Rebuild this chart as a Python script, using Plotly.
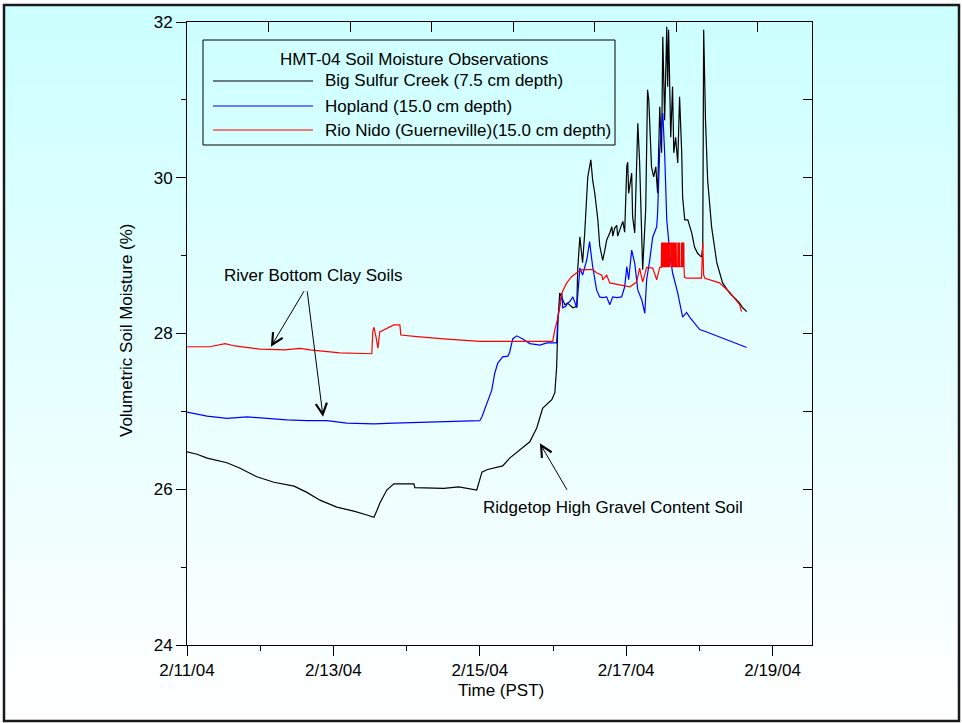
import pandas as pd
import plotly.graph_objects as go

# ---- observations: hours after 2004-02-11 00:00 PST, volumetric moisture (%) ----
sulfur_hours = [0, 3.3, 6.6, 13.1, 17.4, 22.9, 28.5, 35.1, 39.3, 43.6, 49.1, 54.7, 59.0, 61.3,
                62.3, 63.2, 65.5, 67.8, 74.4, 74.7, 84.2, 89.1, 95.0, 96.7, 98.3, 103.5, 105.8,
                109.1, 112.4, 114.7, 116.6, 119.6, 120.6, 121.2, 121.6, 122.2, 122.9, 123.9,
                124.8, 126.5, 127.8, 128.1, 128.8, 129.4, 129.7, 130.4, 131.4, 132.4, 133.0,
                133.7, 134.3, 134.7, 135.3, 136.3, 137.0, 137.6, 138.6, 139.3, 139.6, 140.2,
                140.9, 141.2, 141.9, 142.9, 143.5, 144.2, 144.5, 144.8, 145.8, 146.1, 146.8,
                147.4, 147.8, 148.4, 149.1, 149.4, 150.4, 151.0, 151.4, 152.3, 153.0, 153.7,
                154.3, 155.0, 155.6, 156.0, 156.6, 157.3, 157.6, 157.9, 158.6, 159.2, 159.6,
                160.2, 160.9, 161.5, 162.2, 162.5, 163.2, 164.2, 165.5, 166.4, 167.4, 168.7,
                169.1, 169.4, 170.0, 170.7, 172.0, 173.7, 175.6, 177.9, 180.2, 181.2, 182.2, 183.5]
sulfur_vals = [26.48, 26.45, 26.40, 26.34, 26.27, 26.16, 26.09, 26.04, 25.96, 25.86, 25.77, 25.72,
               25.67, 25.64, 25.73, 25.82, 25.99, 26.07, 26.07, 26.02, 26.01, 26.03, 25.99, 26.22,
               26.25, 26.30, 26.40, 26.50, 26.61, 26.79, 27.04, 27.15, 27.24, 27.57, 28.14, 28.52,
               28.46, 28.37, 28.39, 28.33, 28.35, 28.82, 29.24, 29.03, 28.91, 29.29, 30.01, 30.23,
               29.97, 29.80, 29.60, 29.46, 29.13, 28.94, 29.07, 29.20, 29.29, 29.37, 29.25, 29.35,
               29.39, 29.25, 29.33, 29.44, 29.30, 30.15, 30.20, 29.80, 30.06, 29.50, 29.29, 30.32,
               30.70, 30.20, 29.03, 28.82, 29.60, 31.13, 31.00, 30.14, 30.01, 30.14, 29.80, 30.91,
               30.32, 31.81, 30.74, 31.94, 31.17, 31.90, 30.52, 31.17, 30.32, 30.52, 30.19, 31.04,
               30.32, 29.75, 29.46, 29.46, 29.29, 29.11, 29.03, 28.98, 29.11, 31.90, 30.74, 29.97,
               29.37, 28.91, 28.65, 28.52, 28.43, 28.39, 28.33, 28.28]

hopland_hours = [0, 6.6, 13.1, 19.7, 26.2, 32.8, 39.3, 45.9, 52.4, 61.3, 67.8, 75.4, 96.0, 96.7,
                 98.3, 99.9, 100.9, 101.9, 103.5, 105.2, 105.8, 106.8, 108.1, 110.1, 112.4, 115.7,
                 118.0, 121.2, 121.6, 122.2, 122.9, 123.2, 124.2, 124.8, 125.5, 126.5, 127.8,
                 128.8, 129.7, 131.1, 132.0, 133.0, 134.3, 135.3, 136.3, 137.6, 138.6, 139.6,
                 140.9, 142.5, 143.5, 144.2, 144.8, 145.8, 146.8, 147.8, 149.1, 150.1, 150.7,
                 151.7, 152.7, 154.0, 154.3, 155.0, 156.0, 156.6, 157.3, 158.3, 159.2, 160.9,
                 162.5, 163.8, 164.8, 168.1, 170.4, 183.5]
hopland_vals = [26.99, 26.94, 26.91, 26.93, 26.91, 26.89, 26.88, 26.88, 26.85, 26.84, 26.85, 26.86,
                26.88, 26.93, 27.11, 27.27, 27.49, 27.62, 27.70, 27.71, 27.76, 27.93, 27.97, 27.93,
                27.87, 27.85, 27.88, 27.88, 28.21, 28.34, 28.52, 28.33, 28.35, 28.39, 28.41, 28.47,
                28.33, 28.84, 28.75, 28.95, 29.18, 28.86, 28.56, 28.47, 28.46, 28.47, 28.37, 28.47,
                28.46, 28.47, 28.60, 28.86, 28.69, 29.07, 28.90, 28.56, 28.43, 28.26, 28.69, 28.94,
                29.24, 29.37, 29.55, 30.36, 30.83, 30.32, 29.46, 29.03, 28.78, 28.52, 28.21, 28.27,
                28.21, 28.05, 28.02, 27.82]

rionido_hours = [0, 7.5, 12.5, 15.7, 23.9, 32.1, 37.0, 40.3, 50.1, 60.6, 60.9, 61.3, 62.0, 62.6,
                 63.2, 65.5, 67.8, 69.8, 70.1, 75.4, 84.2, 96.0, 119.9, 120.6, 121.6, 122.9,
                 124.5, 126.1, 128.1, 129.7, 133.0, 134.3, 136.0, 136.3, 137.6, 138.6, 142.9,
                 145.2, 147.4, 148.4, 149.4, 150.7, 152.7, 154.0, 155.0,
                 155.5, 155.6, 155.75, 155.8, 155.95, 156.0, 156.15, 156.2, 156.35, 156.4,
                 156.55, 156.6, 156.75, 156.8, 156.95, 157.0, 157.15, 157.2, 157.35, 157.4,
                 157.55, 157.6, 157.75, 157.8, 157.95, 158.0, 158.15, 158.2, 158.35, 158.4,
                 158.8, 158.85, 159.0, 159.05, 159.2, 159.25, 159.4, 159.45, 159.6, 159.65,
                 159.8, 159.85, 160.0, 160.05, 160.2, 160.25, 160.4, 160.45,
                 160.9, 160.95, 161.1, 161.15, 161.3, 161.35, 161.5, 161.55,
                 162.1, 162.15, 162.3, 162.35, 162.6, 162.65, 162.9, 162.95, 163.1,
                 163.8, 168.7, 169.1, 169.4, 169.8, 174.6, 177.9, 181.2, 181.8, 183.5]
rionido_vals = [27.83, 27.83, 27.87, 27.84, 27.80, 27.79, 27.81, 27.79, 27.75, 27.74, 28.02, 28.08,
                27.95, 27.81, 28.02, 28.07, 28.11, 28.11, 27.98, 27.96, 27.93, 27.90, 27.90, 28.05,
                28.20, 28.52, 28.65, 28.73, 28.79, 28.82, 28.82, 28.78, 28.75, 28.69, 28.75, 28.65,
                28.62, 28.60, 28.66, 28.84, 28.66, 28.85, 28.84, 28.69, 28.85,
                28.85, 29.16, 29.16, 28.86, 28.86, 29.16, 29.16, 28.86, 28.86,
                29.16, 29.16, 28.86, 28.86, 29.16, 29.16, 28.86, 28.86, 29.16, 29.16,
                28.86, 28.86, 29.16, 29.16, 28.86, 28.86, 29.16, 29.16, 28.86, 28.86,
                29.16, 29.16, 28.86, 28.86, 29.16, 29.16, 28.86, 28.86, 29.16, 29.16,
                28.86, 28.86, 29.16, 29.16, 28.86, 28.86, 29.16, 29.16,
                28.86, 28.86, 29.16, 29.16, 28.86, 28.86, 29.16, 29.16,
                28.86, 28.86, 29.16, 29.16, 28.86, 28.86, 29.16, 29.16, 28.86,
                28.72, 28.71, 28.71, 29.17, 28.75, 28.71, 28.65, 28.53, 28.37, 28.28]

series_names = ["Big Sulfur Creek (7.5 cm depth)",
                "Hopland (15.0 cm depth)",
                "Rio Nido (Guerneville)(15.0 cm depth)"]
series_colors = ["#000000", "#0000ff", "#ff0000"]

START = pd.Timestamp("2004-02-11 00:00")


def to_time(hours):
    return START + pd.to_timedelta(hours, unit="h")


FONT = "Liberation Sans, Arial, sans-serif"

# plot-area geometry in pixels
L, T, W, H = 187, 22, 625, 623
FIG_W, FIG_H = 962, 723


def px(x):
    return (x - L) / W


def py(y):
    return 1 - (y - T) / H


fig = go.Figure()
for hrs, vals, name, col in zip([sulfur_hours, hopland_hours, rionido_hours],
                                [sulfur_vals, hopland_vals, rionido_vals],
                                series_names, series_colors):
    fig.add_trace(go.Scatter(x=to_time(hrs), y=vals, mode="lines", name=name,
                             line=dict(color=col, width=1.2), showlegend=False))

# empty trace so the top and right tick-only axes get a subplot of their own
fig.add_trace(go.Scatter(x=[], y=[], xaxis="x2", yaxis="y2", mode="lines",
                         showlegend=False, hoverinfo="skip"))

shapes = []
# pale cyan-to-white vertical background gradient inside the frame
top_rgb, bot_rgb = (204, 255, 255), (255, 255, 255)
y_top, y_bot = 5, 721
n = 80
for i in range(n):
    f = i / (n - 1)
    r = round(top_rgb[0] + (bot_rgb[0] - top_rgb[0]) * f)
    g = round(top_rgb[1] + (bot_rgb[1] - top_rgb[1]) * f)
    b = round(top_rgb[2] + (bot_rgb[2] - top_rgb[2]) * f)
    ya = y_top + (y_bot - y_top) * i / n
    yb = y_top + (y_bot - y_top) * (i + 1) / n + 0.6
    shapes.append(dict(type="rect", xref="paper", yref="paper", layer="below",
                       x0=px(5), x1=px(958), y0=py(ya), y1=py(yb),
                       fillcolor=f"rgb({r},{g},{b})", line=dict(width=0)))
# outer frame
shapes.append(dict(type="rect", xref="paper", yref="paper", layer="above",
                   x0=px(4), x1=px(959), y0=py(5), y1=py(721),
                   line=dict(color="#1a1a1a", width=2.5), fillcolor="rgba(0,0,0,0)"))

# legend box with line samples
shapes.append(dict(type="rect", xref="paper", yref="paper", layer="above",
                   x0=px(203), x1=px(615), y0=py(40), y1=py(145),
                   line=dict(color="#000000", width=1), fillcolor="rgba(0,0,0,0)"))
legend_rows = [81, 106, 130]
annotations = []
for yy, name, col in zip(legend_rows, series_names, series_colors):
    shapes.append(dict(type="line", xref="paper", yref="paper", layer="above",
                       x0=px(213), x1=px(313), y0=py(yy), y1=py(yy),
                       line=dict(color=col, width=1.2)))
    annotations.append(dict(xref="paper", yref="paper", x=px(323), y=py(yy),
                            xanchor="left", yanchor="middle", showarrow=False,
                            text=name, font=dict(family=FONT, size=17, color="#000")))
annotations.append(dict(xref="paper", yref="paper", x=px(414), y=py(60),
                        xanchor="center", yanchor="middle", showarrow=False,
                        text="HMT-04 Soil Moisture Observations",
                        font=dict(family=FONT, size=17, color="#000")))

# axis titles
annotations.append(dict(xref="paper", yref="paper", x=px(501), y=py(691),
                        xanchor="center", yanchor="middle", showarrow=False,
                        text="Time (PST)", font=dict(family=FONT, size=17, color="#000")))
annotations.append(dict(xref="paper", yref="paper", x=px(126), y=py(330),
                        xanchor="center", yanchor="middle", showarrow=False, textangle=-90,
                        text="Volumetric Soil Moisture (%)",
                        font=dict(family=FONT, size=17, color="#000")))

# callouts
annotations.append(dict(xref="paper", yref="paper", x=px(313), y=py(275),
                        xanchor="center", yanchor="middle", showarrow=False,
                        text="River Bottom Clay Soils",
                        font=dict(family=FONT, size=17, color="#000")))
annotations.append(dict(xref="paper", yref="paper", x=px(613), y=py(507),
                        xanchor="center", yanchor="middle", showarrow=False,
                        text="Ridgetop High Gravel Content Soil",
                        font=dict(family=FONT, size=17, color="#000")))
arrow_style = dict(showarrow=True, arrowhead=5, arrowsize=2.2, arrowwidth=1,
                   arrowcolor="#000", text="", axref="pixel", ayref="pixel")
annotations.append(dict(x=to_time([27.5])[0], y=27.83, ax=34, ay=-57, **arrow_style))
annotations.append(dict(x=to_time([44.6])[0], y=26.93, ax=-16, ay=-127, **arrow_style))
annotations.append(dict(x=to_time([115.7])[0], y=26.59, ax=28, ay=48, **arrow_style))

x_end = START + pd.Timedelta(days=(812 - 187) / 73.2)
DAY_MS = 86400000

fig.update_layout(
    width=FIG_W, height=FIG_H,
    margin=dict(l=L, r=FIG_W - L - W, t=T, b=FIG_H - T - H, pad=0),
    paper_bgcolor="#ffffff", plot_bgcolor="rgba(0,0,0,0)",
    font=dict(family=FONT, size=17, color="#000"),
    showlegend=False,
    shapes=shapes, annotations=annotations,
    xaxis=dict(type="date", range=[START, x_end], tick0=START, dtick=2 * DAY_MS,
               tickformat="%-m/%d/%y", ticks="outside", ticklen=10, tickwidth=1,
               tickcolor="#000", showline=True, linecolor="#000", linewidth=1,
               showgrid=False, zeroline=False, automargin=False,
               tickfont=dict(family=FONT, size=17, color="#000"),
               minor=dict(dtick=DAY_MS, tick0=START, ticks="outside", ticklen=5,
                          tickcolor="#000", showgrid=False)),
    xaxis2=dict(overlaying="x", side="top", anchor="y2", range=[0, 625 / 81.5], dtick=1, tick0=0,
                ticks="inside", ticklen=10, tickcolor="#000", showticklabels=False,
                showline=True, linecolor="#000", linewidth=1, showgrid=False, zeroline=False),
    yaxis=dict(range=[24, 32], dtick=2, tick0=24, ticks="outside", ticklen=10, tickwidth=1,
               tickcolor="#000", showline=True, linecolor="#000", linewidth=1,
               showgrid=False, zeroline=False, automargin=False,
               tickfont=dict(family=FONT, size=17, color="#000"),
               minor=dict(dtick=1, tick0=24, ticks="outside", ticklen=5, tickcolor="#000",
                          showgrid=False)),
    yaxis2=dict(overlaying="y", side="right", anchor="x2", range=[24, 32], dtick=1, tick0=24,
                ticks="inside", ticklen=9, tickcolor="#000", showticklabels=False,
                showline=True, linecolor="#000", linewidth=1, showgrid=False, zeroline=False),
)

fig.write_html("out.html")
